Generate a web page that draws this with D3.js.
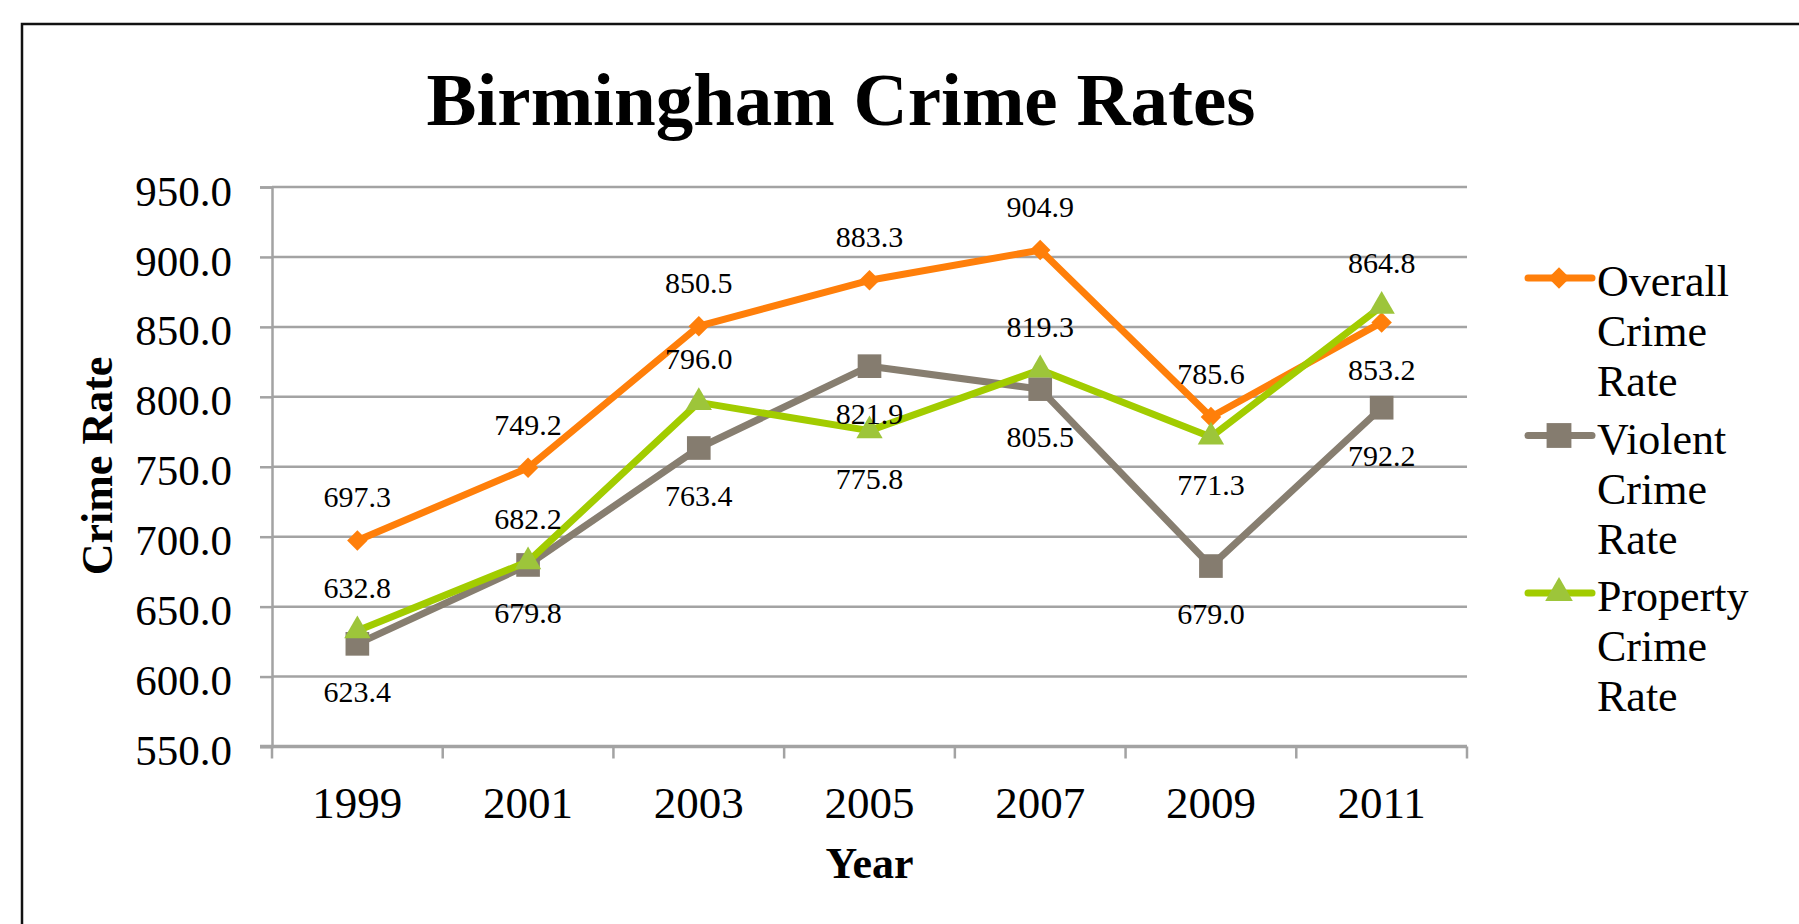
<!DOCTYPE html>
<html>
<head>
<meta charset="utf-8">
<script src="https://cdn.jsdelivr.net/npm/d3@7"></script>
<style>
    html, body { margin: 0; padding: 0; background: #fff; }
    svg { display: block; }
    text { font-family: "Liberation Serif", "Times New Roman", serif; fill: #000; }
</style>
</head>
<body>
<div id="chart"></div>
<script>
// dados
const years = ['1999', '2001', '2003', '2005', '2007', '2009', '2011'];
const overall = [697.3, 749.2, 850.5, 883.3, 904.9, 785.6, 853.2];
const violent = [623.4, 679.8, 763.4, 821.9, 805.5, 679.0, 792.2];
const property = [632.8, 682.2, 796.0, 775.8, 819.3, 771.3, 864.8];
const yTicks = [550, 600, 650, 700, 750, 800, 850, 900, 950];
const seriesNames = ['Overall Crime Rate', 'Violent Crime Rate', 'Property Crime Rate'];

// posição dos rótulos (acima / abaixo do ponto)
const overallLabelPos = ['up', 'up', 'up', 'up', 'up', 'up', 'down'];
const violentLabelPos = ['down', 'down', 'down', 'down', 'down', 'down', 'down'];
const propertyLabelPos = ['up', 'up', 'up', 'down', 'up', 'down', 'up'];

const width = 1799;
const height = 924;
const margin = {top: 187, right: 332, bottom: 177.5, left: 272};

const svg = d3.select('#chart')
    .append('svg')
    .attr('width', width)
    .attr('height', height);

// moldura
svg.append('rect')
    .attr('x', 22)
    .attr('y', 24)
    .attr('width', 2000)
    .attr('height', 1000)
    .attr('fill', 'none')
    .attr('stroke', '#111')
    .attr('stroke-width', 2.5);

const x = d3.scaleBand()
    .domain(years)
    .range([margin.left, width - margin.right]);

const y = d3.scaleLinear()
    .domain([550, 950])
    .range([height - margin.bottom, margin.top]);

const cx = d => x(d) + x.bandwidth() / 2;

// linhas de grade
svg.append('g')
    .selectAll('line')
    .data(yTicks.slice(1))
    .enter()
    .append('line')
    .attr('x1', margin.left)
    .attr('x2', width - margin.right)
    .attr('y1', d => y(d))
    .attr('y2', d => y(d))
    .attr('stroke', '#a3a3a3')
    .attr('stroke-width', 2.5);

// eixo Y
const yAxis = svg.append('g')
    .attr('transform', `translate(${margin.left},0)`)
    .call(d3.axisLeft(y).tickValues(yTicks).tickSize(12).tickPadding(28).tickFormat(d3.format('.1f')));
yAxis.select('.domain').attr('stroke', '#a3a3a3').attr('stroke-width', 2.5);
yAxis.selectAll('.tick line').attr('stroke', '#a3a3a3').attr('stroke-width', 2.5);
yAxis.selectAll('.tick text')
    .style('font-family', '"Liberation Serif", serif')
    .style('font-size', '43px')
    .attr('dy', '0.42em');

// eixo X
const xAxis = svg.append('g')
    .attr('transform', `translate(0,${y(550)})`)
    .call(d3.axisBottom(x).tickSize(0).tickPadding(40));
xAxis.select('.domain').remove();
xAxis.selectAll('.tick text')
    .style('font-family', '"Liberation Serif", serif')
    .style('font-size', '45px');

svg.append('line')
    .attr('x1', margin.left - 12)
    .attr('x2', width - margin.right)
    .attr('y1', y(550))
    .attr('y2', y(550))
    .attr('stroke', '#a3a3a3')
    .attr('stroke-width', 3.5);

svg.append('g')
    .selectAll('line')
    .data(years.map(d => x(d)).concat([x.range()[1]]))
    .enter()
    .append('line')
    .attr('x1', d => d)
    .attr('x2', d => d)
    .attr('y1', y(550))
    .attr('y2', y(550) + 12)
    .attr('stroke', '#a3a3a3')
    .attr('stroke-width', 2.5);

// títulos
svg.append('text')
    .attr('x', 841)
    .attr('y', 125)
    .attr('text-anchor', 'middle')
    .style('font-size', '75px')
    .style('font-weight', 'bold')
    .text('Birmingham Crime Rates');

svg.append('text')
    .attr('transform', 'translate(112,466) rotate(-90)')
    .attr('text-anchor', 'middle')
    .style('font-size', '44px')
    .style('font-weight', 'bold')
    .text('Crime Rate');

svg.append('text')
    .attr('x', (margin.left + width - margin.right) / 2)
    .attr('y', 878)
    .attr('text-anchor', 'middle')
    .style('font-size', '44px')
    .style('font-weight', 'bold')
    .text('Year');

// séries (losango = quadrado girado 45°)
const series = [
    {name: seriesNames[0], values: overall, labelPos: overallLabelPos, color: '#ff7f0a', fill: '#ff7f0a', symbol: d3.symbolSquare, size: 210, rotate: 45},
    {name: seriesNames[1], values: violent, labelPos: violentLabelPos, color: '#877e70', fill: '#857c6f', symbol: d3.symbolSquare, size: 560, rotate: 0},
    {name: seriesNames[2], values: property, labelPos: propertyLabelPos, color: '#a2cc00', fill: '#9dc53a', symbol: d3.symbolTriangle, size: 300, rotate: 0}
];

const line = d3.line()
    .x((d, i) => cx(years[i]))
    .y(d => y(d));

series.forEach(s => {
    svg.append('path')
        .datum(s.values)
        .attr('fill', 'none')
        .attr('stroke', s.color)
        .attr('stroke-width', 7)
        .attr('stroke-linejoin', 'round')
        .attr('d', line);

    svg.append('g')
        .selectAll('path')
        .data(s.values)
        .enter()
        .append('path')
        .attr('transform', (d, i) => `translate(${cx(years[i])},${y(d)}) rotate(${s.rotate})`)
        .attr('d', d3.symbol().type(s.symbol).size(s.size))
        .attr('fill', s.fill);
});

// rótulos de dados
series.forEach(s => {
    svg.append('g')
        .selectAll('text')
        .data(s.values)
        .enter()
        .append('text')
        .attr('x', (d, i) => cx(years[i]))
        .attr('y', (d, i) => y(d) + (s.labelPos[i] === 'up' ? -33 : 58))
        .attr('text-anchor', 'middle')
        .style('font-size', '30px')
        .text(d => d.toFixed(1));
});

// legenda
const legend = svg.append('g')
    .attr('transform', 'translate(1528,278)');

const items = legend.selectAll('g')
    .data(series)
    .enter()
    .append('g')
    .attr('transform', (d, i) => `translate(0,${i * 157.5})`);

items.append('line')
    .attr('x1', 0)
    .attr('x2', 64)
    .attr('stroke', d => d.color)
    .attr('stroke-width', 7)
    .attr('stroke-linecap', 'round');

items.append('path')
    .attr('transform', d => `translate(31,0) rotate(${d.rotate})`)
    .attr('d', d => d3.symbol().type(d.symbol).size(d.size * 1.1)())
    .attr('fill', d => d.fill);

items.append('text')
    .attr('x', 69)
    .attr('y', 18)
    .style('font-size', '44px')
    .selectAll('tspan')
    .data(d => d.name.split(' '))
    .enter()
    .append('tspan')
    .attr('x', 69)
    .attr('dy', (d, i) => i === 0 ? 0 : 50)
    .text(d => d);
</script>
</body>
</html>
